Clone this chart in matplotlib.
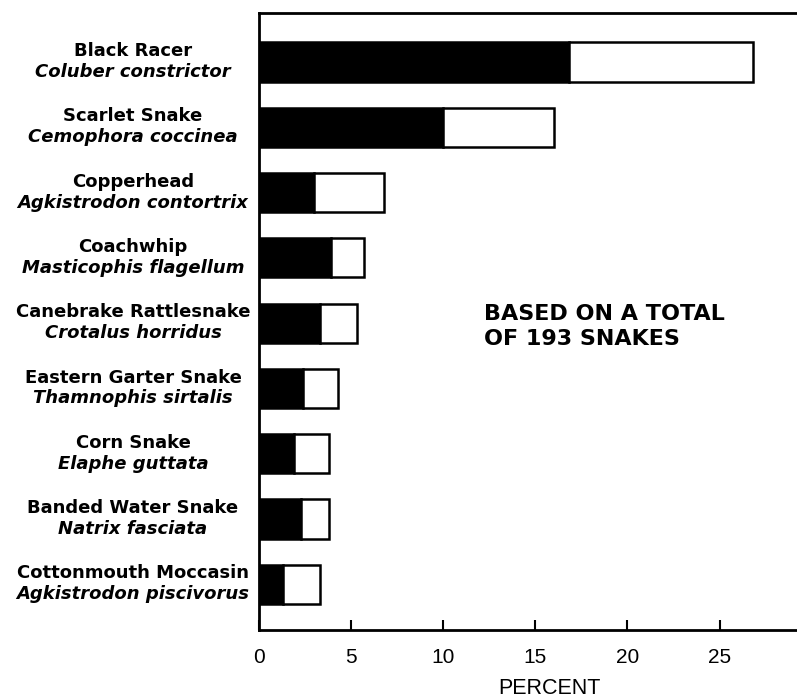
import matplotlib
matplotlib.use("Agg")
import matplotlib.pyplot as plt
import matplotlib.transforms as mtransforms
import numpy as np

common_names = ["Black Racer", "Scarlet Snake", "Copperhead", "Coachwhip",
                "Canebrake Rattlesnake", "Eastern Garter Snake", "Corn Snake",
                "Banded Water Snake", "Cottonmouth Moccasin"]
sci_names = ["Coluber constrictor", "Cemophora coccinea", "Agkistrodon contortrix",
             "Masticophis flagellum", "Crotalus horridus", "Thamnophis sirtalis",
             "Elaphe guttata", "Natrix fasciata", "Agkistrodon piscivorus"]
black_pct = [16.8, 10.0, 3.0, 3.9, 3.3, 2.4, 1.9, 2.3, 1.3]
total_pct = [26.8, 16.0, 6.8, 5.7, 5.3, 4.3, 3.8, 3.8, 3.3]
xticks = [0, 5, 10, 15, 20, 25]

plt.rcParams['font.family'] = ['DejaVu Sans']

fig = plt.figure(figsize=(7.97, 7.0), dpi=100)
ax = fig.add_axes([259/797, 70/700, 1 - 259/797, (630-13)/700])

y = np.arange(len(common_names))
white_pct = [t - b for t, b in zip(total_pct, black_pct)]
ax.barh(y, black_pct, height=0.6, color='black', edgecolor='black', linewidth=1.8)
ax.barh(y, white_pct, left=black_pct, height=0.6, color='white',
        edgecolor='black', linewidth=1.8)

ax.set_xlim(0, 29.2)
ax.set_ylim(len(common_names) - 1 + 0.7, -0.75)
ax.set_xticks(xticks)
ax.set_xticklabels([str(t) for t in xticks], fontsize=15,
                   fontfamily=['Liberation Sans'])
ax.tick_params(axis='x', direction='in', length=7, width=1.5, pad=13)
ax.set_yticks([])
for s in ['left', 'bottom', 'top']:
    ax.spines[s].set_linewidth(2)
ax.spines['right'].set_visible(False)

trans = mtransforms.blended_transform_factory(fig.transFigure, ax.transData)
for yi, cn, sn in zip(y, common_names, sci_names):
    ax.text(133/797, yi - 0.09, cn, ha='center', va='baseline', fontsize=13,
            fontweight='bold', transform=trans)
    ax.text(133/797, yi + 0.23, sn, ha='center', va='baseline', fontsize=13,
            fontweight='bold', style='italic', transform=trans)

ax.text(12.2, 4.05, "BASED ON A TOTAL\nOF 193 SNAKES", ha='left', va='center',
        fontsize=16, fontweight='bold', linespacing=1.3)

fig.text(549/797, 1 - 688/700, "PERCENT", ha='center', va='center',
         fontsize=15.5, fontfamily=['Liberation Sans'])

fig.savefig("out.png", dpi=100)
